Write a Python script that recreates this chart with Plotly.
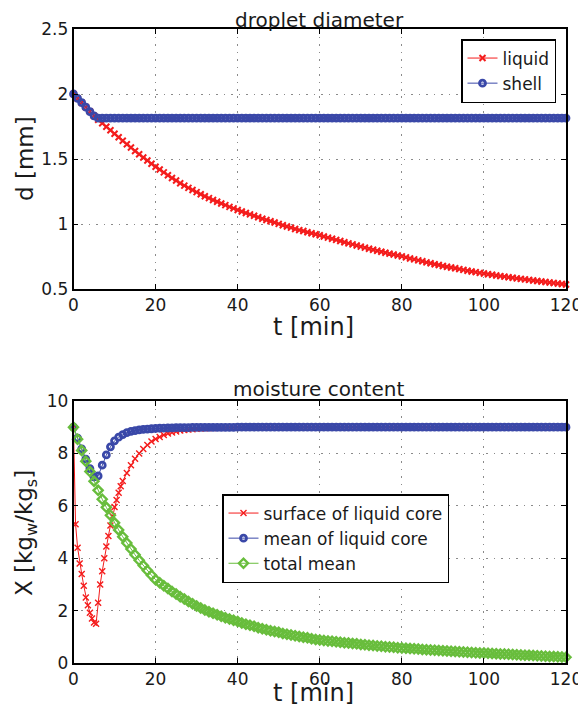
import plotly.graph_objects as go

# time axis, minutes
t_min = list(range(0, 121))

# droplet diameter [mm]
liquid_d = [
    2.000, 1.966, 1.933, 1.899, 1.865, 1.832, 1.802, 1.775, 1.748, 1.721,
    1.694, 1.667, 1.640, 1.614, 1.588, 1.562, 1.537, 1.512, 1.488, 1.464,
    1.441, 1.419, 1.397, 1.375, 1.354, 1.334, 1.314, 1.295, 1.278, 1.261,
    1.245, 1.229, 1.214, 1.199, 1.185, 1.171, 1.158, 1.145, 1.132, 1.120,
    1.108, 1.096, 1.085, 1.074, 1.063, 1.052, 1.041, 1.031, 1.021, 1.011,
    1.001, 0.991, 0.981, 0.972, 0.962, 0.953, 0.946, 0.937, 0.929, 0.921,
    0.913, 0.904, 0.895, 0.886, 0.878, 0.869, 0.860, 0.851, 0.843, 0.835,
    0.826, 0.818, 0.810, 0.802, 0.794, 0.786, 0.779, 0.772, 0.765, 0.758,
    0.751, 0.743, 0.735, 0.728, 0.720, 0.713, 0.705, 0.698, 0.691, 0.684,
    0.677, 0.671, 0.665, 0.659, 0.653, 0.647, 0.641, 0.635, 0.630, 0.624,
    0.619, 0.614, 0.609, 0.604, 0.599, 0.595, 0.590, 0.586, 0.582, 0.578,
    0.574, 0.570, 0.566, 0.562, 0.558, 0.554, 0.550, 0.546, 0.542, 0.538,
    0.534,
]
shell_d = [
    2.000, 1.966, 1.933, 1.899, 1.865, 1.832, 1.815, 1.815, 1.815, 1.815,
    1.815, 1.815, 1.815, 1.815, 1.815, 1.815, 1.815, 1.815, 1.815, 1.815,
    1.815, 1.815, 1.815, 1.815, 1.815, 1.815, 1.815, 1.815, 1.815, 1.815,
    1.815, 1.815, 1.815, 1.815, 1.815, 1.815, 1.815, 1.815, 1.815, 1.815,
    1.815, 1.815, 1.815, 1.815, 1.815, 1.815, 1.815, 1.815, 1.815, 1.815,
    1.815, 1.815, 1.815, 1.815, 1.815, 1.815, 1.815, 1.815, 1.815, 1.815,
    1.815, 1.815, 1.815, 1.815, 1.815, 1.815, 1.815, 1.815, 1.815, 1.815,
    1.815, 1.815, 1.815, 1.815, 1.815, 1.815, 1.815, 1.815, 1.815, 1.815,
    1.815, 1.815, 1.815, 1.815, 1.815, 1.815, 1.815, 1.815, 1.815, 1.815,
    1.815, 1.815, 1.815, 1.815, 1.815, 1.815, 1.815, 1.815, 1.815, 1.815,
    1.815, 1.815, 1.815, 1.815, 1.815, 1.815, 1.815, 1.815, 1.815, 1.815,
    1.815, 1.815, 1.815, 1.815, 1.815, 1.815, 1.815, 1.815, 1.815, 1.815,
    1.815,
]

# moisture content [kg_w/kg_s]
t_surface = [0, 0.5, 1, 1.5, 2, 2.5, 3, 3.5, 4, 4.5, 5, 5.5, 6, 6.5, 7, 7.5,
             8, 8.5, 9, 9.5, 10, 10.5, 11, 11.5, 12] + list(range(13, 121))
surface_x = [
    9.00, 5.30, 4.40, 3.80, 3.40, 2.95, 2.50, 2.20, 1.92, 1.70, 1.55, 1.50,
    2.30, 3.00, 3.50, 4.00, 4.45, 4.85, 5.25, 5.60, 5.95, 6.22, 6.50, 6.75, 6.95,
    7.25, 7.55, 7.80, 8.00, 8.17, 8.32, 8.45,
    8.55, 8.63, 8.70, 8.76, 8.80, 8.84, 8.87, 8.89, 8.91, 8.925,
    8.94, 8.95, 8.96, 8.965, 8.97, 8.975, 8.98, 8.985, 8.99, 8.99,
    8.995,
    9.00, 9.00, 9.00, 9.00, 9.00, 9.00, 9.00, 9.00, 9.00, 9.00,
    9.00, 9.00, 9.00, 9.00, 9.00, 9.00, 9.00, 9.00, 9.00, 9.00,
    9.00, 9.00, 9.00, 9.00, 9.00, 9.00, 9.00, 9.00, 9.00, 9.00,
    9.00, 9.00, 9.00, 9.00, 9.00, 9.00, 9.00, 9.00, 9.00, 9.00,
    9.00, 9.00, 9.00, 9.00, 9.00, 9.00, 9.00, 9.00, 9.00, 9.00,
    9.00, 9.00, 9.00, 9.00, 9.00, 9.00, 9.00, 9.00, 9.00, 9.00,
    9.00, 9.00, 9.00, 9.00, 9.00, 9.00, 9.00, 9.00, 9.00, 9.00,
    9.00, 9.00, 9.00, 9.00, 9.00, 9.00, 9.00, 9.00, 9.00, 9.00,
]
mean_x = [
    9.00, 8.58, 8.17, 7.78, 7.42, 7.10, 7.14, 7.55, 7.94, 8.25,
    8.48, 8.62, 8.72, 8.79, 8.84, 8.87, 8.90, 8.92, 8.93, 8.94,
    8.95, 8.96, 8.965, 8.97, 8.975, 8.98, 8.982, 8.985, 8.987, 8.99,
    8.99, 8.99, 8.99, 8.99, 8.99, 8.99, 8.99, 8.99, 8.99, 8.99,
    9.00, 9.00, 9.00, 9.00, 9.00, 9.00, 9.00, 9.00, 9.00, 9.00,
    9.00, 9.00, 9.00, 9.00, 9.00, 9.00, 9.00, 9.00, 9.00, 9.00,
    9.00, 9.00, 9.00, 9.00, 9.00, 9.00, 9.00, 9.00, 9.00, 9.00,
    9.00, 9.00, 9.00, 9.00, 9.00, 9.00, 9.00, 9.00, 9.00, 9.00,
    9.00, 9.00, 9.00, 9.00, 9.00, 9.00, 9.00, 9.00, 9.00, 9.00,
    9.00, 9.00, 9.00, 9.00, 9.00, 9.00, 9.00, 9.00, 9.00, 9.00,
    9.00, 9.00, 9.00, 9.00, 9.00, 9.00, 9.00, 9.00, 9.00, 9.00,
    9.00, 9.00, 9.00, 9.00, 9.00, 9.00, 9.00, 9.00, 9.00, 9.00,
    9.00,
]
total_x = [
    9.00, 8.54, 8.11, 7.70, 7.31, 6.94, 6.59, 6.25, 5.94, 5.64,
    5.35, 5.08, 4.82, 4.58, 4.35, 4.13, 3.92, 3.72, 3.53, 3.35,
    3.18, 3.06, 2.95, 2.84, 2.73, 2.63, 2.53, 2.44, 2.35, 2.26,
    2.18, 2.10, 2.02, 1.96, 1.90, 1.84, 1.78, 1.73, 1.68, 1.63,
    1.58, 1.53, 1.48, 1.44, 1.40, 1.35, 1.31, 1.27, 1.23, 1.20,
    1.17, 1.13, 1.10, 1.07, 1.04, 1.01, 0.98, 0.96, 0.93, 0.90,
    0.88, 0.86, 0.84, 0.83, 0.81, 0.79, 0.77, 0.76, 0.74, 0.73,
    0.71, 0.70, 0.68, 0.67, 0.65, 0.64, 0.62, 0.61, 0.60, 0.58,
    0.57, 0.56, 0.55, 0.54, 0.53, 0.52, 0.51, 0.50, 0.49, 0.48,
    0.47, 0.46, 0.45, 0.44, 0.43, 0.42, 0.41, 0.40, 0.39, 0.385,
    0.380, 0.372, 0.364, 0.356, 0.348, 0.340, 0.332, 0.324, 0.316, 0.308,
    0.300, 0.292, 0.284, 0.276, 0.268, 0.260, 0.252, 0.244, 0.236, 0.228,
    0.220,
]

RED = "#f41c1c"
BLUE = "#3a48a8"
GREEN = "#68bd3c"
FONT = "DejaVu Sans, Liberation Sans, Arial, sans-serif"

# the page body adds an 8px margin, so the figure is drawn 8px in from the corner
OFF = 8
W, H = 586 - OFF, 716 - 2 * OFF


def px_x(x):
    return (x - OFF) / W


def px_y(y):
    return 1 - (y - OFF) / H


red_marker = dict(symbol="x-thin", size=6, color=RED, line=dict(color=RED, width=2))
blue_marker = dict(symbol="circle-open", size=6, color=BLUE, line=dict(color=BLUE, width=2.8))
green_marker = dict(symbol="diamond-open", size=7, color=GREEN, line=dict(color=GREEN, width=2.4))

fig = go.Figure()

# top panel
fig.add_trace(go.Scatter(x=t_min, y=liquid_d, mode="lines+markers", name="liquid",
                         line=dict(color=RED, width=1), marker=red_marker,
                         xaxis="x", yaxis="y", legend="legend", cliponaxis=False))
fig.add_trace(go.Scatter(x=t_min, y=shell_d, mode="lines+markers", name="shell",
                         line=dict(color=BLUE, width=1), marker=blue_marker,
                         xaxis="x", yaxis="y", legend="legend", cliponaxis=False))

# bottom panel
fig.add_trace(go.Scatter(x=t_surface, y=surface_x, mode="lines+markers", name="surface of liquid core",
                         line=dict(color=RED, width=1),
                         marker=dict(symbol="x-thin", size=6, color=RED, line=dict(color=RED, width=1.4)),
                         xaxis="x2", yaxis="y2", legend="legend2", cliponaxis=False))
fig.add_trace(go.Scatter(x=t_min, y=mean_x, mode="lines+markers", name="mean of liquid core",
                         line=dict(color=BLUE, width=1), marker=blue_marker,
                         xaxis="x2", yaxis="y2", legend="legend2", cliponaxis=False))
fig.add_trace(go.Scatter(x=t_min, y=total_x, mode="lines+markers", name="total mean",
                         line=dict(color=GREEN, width=1), marker=green_marker,
                         xaxis="x2", yaxis="y2", legend="legend2", cliponaxis=False))

x_dom = [px_x(73.5), px_x(566)]
axis_style = dict(showgrid=True, gridcolor="#8a8a8a", gridwidth=1, griddash="1.5px,6px",
                  showline=True, linecolor="black", linewidth=1.5, mirror="allticks",
                  ticks="inside", ticklen=5, tickcolor="black", zeroline=False,
                  automargin=False,
                  tickfont=dict(family=FONT, size=17, color="#1a1a1a"))

legend_style = dict(bgcolor="white", bordercolor="black", borderwidth=1.5,
                    font=dict(family=FONT, size=17, color="#1a1a1a"),
                    xanchor="right", yanchor="top", itemwidth=30, tracegroupgap=0)

fig.update_layout(
    width=W, height=H,
    margin=dict(l=0, r=0, t=0, b=0, autoexpand=False),
    paper_bgcolor="white", plot_bgcolor="white",
    font=dict(family=FONT),
    xaxis=dict(domain=x_dom, anchor="y", range=[0, 120], dtick=20, **axis_style),
    yaxis=dict(domain=[px_y(289), px_y(29)], anchor="x", range=[0.5, 2.5], dtick=0.5, **axis_style),
    xaxis2=dict(domain=x_dom, anchor="y2", range=[0, 120], dtick=20, **axis_style),
    yaxis2=dict(domain=[px_y(663), px_y(401)], anchor="x2", range=[0, 10], dtick=2, **axis_style),
    legend=dict(x=px_x(556), y=px_y(39), **legend_style),
    legend2=dict(x=px_x(449), y=px_y(494), **legend_style),
    showlegend=True,
)

ann_font = dict(family=FONT, color="#1a1a1a")
annotations = [
    dict(text="droplet diameter", x=px_x(319), y=px_y(20), font=dict(size=20, **ann_font)),
    dict(text="moisture content", x=px_x(318), y=px_y(389), font=dict(size=20, **ann_font)),
    dict(text="t [min]", x=px_x(313), y=px_y(327), font=dict(size=24, **ann_font)),
    dict(text="t [min]", x=px_x(313), y=px_y(693), font=dict(size=24, **ann_font)),
    dict(text="d [mm]", x=px_x(25), y=px_y(159), textangle=-90, font=dict(size=23, **ann_font)),
    dict(text="X [kg<sub>w</sub>/kg<sub>s</sub>]", x=px_x(26), y=px_y(533), textangle=-90,
         font=dict(size=23, **ann_font)),
]
for a in annotations:
    fig.add_annotation(xref="paper", yref="paper", showarrow=False,
                       xanchor="center", yanchor="middle", **a)

fig.write_html("out.html")
